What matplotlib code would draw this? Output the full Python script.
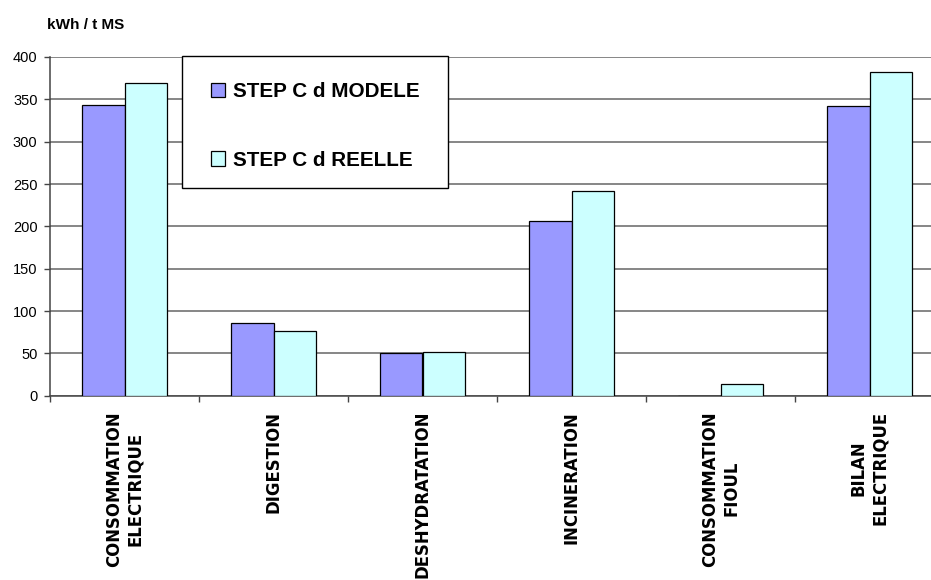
import matplotlib
matplotlib.use("Agg")
import matplotlib.pyplot as plt
import numpy as np
from matplotlib.patches import Rectangle

categories = ["CONSOMMATION\nELECTRIQUE", "DIGESTION", "DESHYDRATATION",
              "INCINERATION", "CONSOMMATION\nFIOUL", "BILAN\nELECTRIQUE"]
series_names = ["STEP C d MODELE", "STEP C d REELLE"]
modele = [343, 86, 51, 206, 0, 342]
reelle = [369, 76, 52, 242, 13.5, 382]
y_ticks = [0, 50, 100, 150, 200, 250, 300, 350, 400]
y_label = "kWh / t MS"

plt.rcParams['font.family'] = ['Liberation Sans', 'DejaVu Sans']

W, H = 931, 580
fig = plt.figure(figsize=(W / 100, H / 100), dpi=100)
ax_left, ax_right = 50, 944
ax_top, ax_bot = 57, 395.7
ax = fig.add_axes([ax_left / W, 1 - ax_bot / H, (ax_right - ax_left) / W, (ax_bot - ax_top) / H])

x = np.arange(len(categories))
bw = 0.285
c1, c2 = "#9999FF", "#CCFFFF"
b1 = ax.bar(x - bw / 2, modele, bw, color=c1, edgecolor="black", linewidth=0.9, zorder=3, label=series_names[0])
b2 = ax.bar(x + bw / 2, reelle, bw, color=c2, edgecolor="black", linewidth=0.9, zorder=3, label=series_names[1])

ax.set_xlim(-0.5, len(categories) - 0.5)
ax.set_ylim(0, 400)
ax.set_yticks(y_ticks)
ax.set_yticklabels([str(v) for v in y_ticks], fontsize=10.5)
ax.yaxis.grid(True, color="#666666", linewidth=1.1, zorder=0)
ax.set_axisbelow(True)
for s in ["top", "right"]:
    ax.spines[s].set_visible(False)
ax.spines["left"].set_color("#444444")
ax.spines["bottom"].set_color("#444444")
ax.spines["left"].set_linewidth(1.1)
ax.spines["bottom"].set_linewidth(1.1)
ax.tick_params(axis="y", direction="out", length=4, width=1, color="#444444", pad=5)

ax.set_xticks(x)
ax.set_xticklabels(categories, rotation=90, fontsize=11.9, fontweight="bold",
                   family=["DejaVu Sans"], linespacing=1.25, ha="center", va="top")
ax.tick_params(axis="x", length=0, pad=11)
ax.set_xticks(np.arange(-0.5, len(categories)), minor=True)
ax.tick_params(axis="x", which="minor", length=4, width=1, color="#444444", direction="out")

fig.text(47 / W, 1 - 25 / H, y_label, fontsize=11, fontweight="bold", ha="left", va="center")

# legend box
lx0, ly0, lx1, ly1 = 181.7, 56, 448.3, 188
fig.patches.append(Rectangle((lx0 / W, 1 - ly1 / H), (lx1 - lx0) / W, (ly1 - ly0) / H,
                             transform=fig.transFigure, facecolor="white",
                             edgecolor="black", linewidth=1.0, zorder=2))
leg = fig.legend(handles=[b1, b2], labels=series_names, loc="upper left",
                 bbox_to_anchor=(211 / W, 1 - 82 / H), frameon=False,
                 borderpad=0, borderaxespad=0, handlelength=0.68, handleheight=0.68,
                 handletextpad=0.4, labelspacing=2.4,
                 prop={"size": 14.9, "weight": "bold"})
leg.set_zorder(6)

fig.savefig("out.png", dpi=100)
